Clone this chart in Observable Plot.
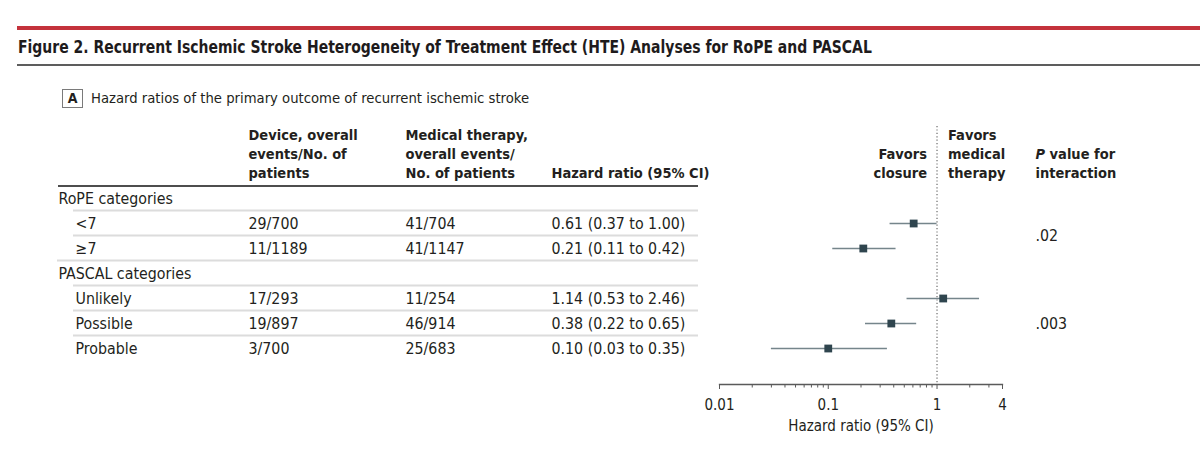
<!DOCTYPE html>
<html><head><meta charset="utf-8">
<script src="https://cdn.jsdelivr.net/npm/d3@7"></script>
<script src="https://cdn.jsdelivr.net/npm/@observablehq/plot@0.6"></script>
<style>
  body{margin:0;background:#fff;font-family:"DejaVu Sans Condensed","Liberation Sans Narrow",Roboto,sans-serif;color:#231f20;}
  #page{position:relative;width:1200px;height:459px;overflow:hidden;background:#fff}
  #redline{position:absolute;left:17px;top:26px;width:1183px;height:4px;background:#c4323c}
  #title{position:absolute;left:18px;top:35px;font-size:18.5px;font-weight:bold;white-space:nowrap;line-height:24px;transform:scaleX(0.84);transform-origin:0 0;color:#1e1b1c}
  #grayline{position:absolute;left:17px;top:64px;width:1183px;height:2px;background:#5d5d5d}
  #panel{position:absolute;left:62px;top:89px;width:19px;height:17px;border:1px solid #7a7a7a;font-size:14px;font-weight:bold;text-align:center;line-height:17px}
  #subtitle{position:absolute;left:91px;top:88px;font-size:14.7px;line-height:20px;white-space:nowrap}
  #chart{position:absolute;left:0;top:112px}
</style>
</head><body>
<div id="page">
  <div id="redline"></div>
  <div id="title">Figure 2. Recurrent Ischemic Stroke Heterogeneity of Treatment Effect (HTE) Analyses for RoPE and PASCAL</div>
  <div id="grayline"></div>
  <div id="panel">A</div>
  <div id="subtitle">Hazard ratios of the primary outcome of recurrent ischemic stroke</div>
  <div id="chart"></div>
</div>
<script>
// ---- data ----
const rows = ["RoPE categories", "<7", "≥7", "PASCAL categories", "Unlikely", "Possible", "Probable"];
const isGroupRow = [true, false, false, true, false, false, false];
const deviceEvents = ["", "29/700", "11/1189", "", "17/293", "19/897", "3/700"];
const medicalEvents = ["", "41/704", "41/1147", "", "11/254", "46/914", "25/683"];
const hazardRatio = [null, 0.61, 0.21, null, 1.14, 0.38, 0.10];
const ciLow = [null, 0.37, 0.11, null, 0.53, 0.22, 0.03];
const ciHigh = [null, 1.00, 0.42, null, 2.46, 0.65, 0.35];
const pGroups = ["RoPE categories", "PASCAL categories"];
const pValues = [".02", ".003"];
const majorTicks = [0.01, 0.1, 1, 4];
const minorTicks = [0.02, 0.03, 0.04, 0.05, 0.06, 0.07, 0.08, 0.09, 0.2, 0.3, 0.4, 0.5, 0.6, 0.7, 0.8, 0.9, 2, 3];
const headDevice = ["Device, overall", "events/No. of", "patients"];
const headMedical = ["Medical therapy,", "overall events/", "No. of patients"];
const headHR = ["Hazard ratio (95% CI)"];
const headClosure = ["Favors", "closure"];
const headMedicalFav = ["Favors", "medical", "therapy"];
const headP = ["P value for", "interaction"];
const axisLabel = "Hazard ratio (95% CI)";

// ---- tables built from arrays ----
const table = rows.map((r, i) => ({
  row: r, group: isGroupRow[i], device: deviceEvents[i], medical: medicalEvents[i],
  hr: hazardRatio[i], lo: ciLow[i], hi: ciHigh[i],
  hrText: hazardRatio[i] == null ? "" :
    `${hazardRatio[i].toFixed(2)} (${ciLow[i].toFixed(2)} to ${ciHigh[i].toFixed(2)})`
}));
const forest = table.filter(d => d.hr != null);

// ---- layout ----
const W = 1200, H = 347;
const mL = 719, mR = 198, mT = 14, mB = 75;
const rowTop = 86, rowBottom = 236;
const step = (rowBottom - rowTop) / (rows.length - 1);
const colLabel = 58, colSub = 75, colDevice = 248, colMedical = 405, colHR = 551, tableRight = 698;
const colP = 1035;
const FS = 15.8;
const HFS = 14.5;
const headDy = 51.5;
const ink = "#231f20";

const textBase = {frameAnchor: "left", textAnchor: "start", fontSize: FS, fill: ink};
const headBase = {frameAnchor: "top-left", textAnchor: "start", lineAnchor: "bottom", lineHeight: 1.31, fontSize: HFS, fontWeight: "bold", fill: ink, dy: headDy};

// p-value groups: place at the middle of each group's sub-rows
const pMarks = pGroups.map((g, k) => {
  const gi = rows.indexOf(g);
  let n = 0;
  for (let i = gi + 1; i < rows.length && !isGroupRow[i]; i++) n++;
  return Plot.text([pValues[k]], {y: () => rows[gi + 1], text: d => d, frameAnchor: "left",
    textAnchor: "start", dx: colP - mL, dy: (n - 1) / 2 * step, fontSize: FS, fill: ink});
});

const tableLines = (index, scales) => {
  const g = d3.create("svg:g");
  const y0 = scales.y(rows[0]) - step / 2 + 0.5;
  g.append("line").attr("x1", colLabel).attr("x2", tableRight).attr("y1", y0).attr("y2", y0)
    .attr("stroke", "#4d4d4d").attr("stroke-width", 2);
  for (let i = 0; i < rows.length - 1; i++) {
    const y = (scales.y(rows[i]) + scales.y(rows[i + 1])) / 2;
    const full = isGroupRow[i + 1];
    g.append("line").attr("x1", full ? 57 : 73).attr("x2", tableRight).attr("y1", y).attr("y2", y)
      .attr("stroke", "#dcdcdc").attr("stroke-width", 2);
  }
  return g.node();
};

const chart = Plot.plot({
  width: W, height: H,
  marginLeft: mL, marginRight: mR, marginTop: mT, marginBottom: mB,
  style: {fontFamily: '"DejaVu Sans Condensed","Liberation Sans Narrow",Roboto,sans-serif', color: ink, background: "#fff"},
  x: {type: "log", domain: [0.01, 4], axis: null},
  y: {type: "point", domain: rows, range: [rowTop, rowBottom], padding: 0, axis: null},
  marks: [
    tableLines,
    // reference line
    Plot.ruleX([1], {stroke: "#6b6b6b", strokeDasharray: "1.2,2.2", strokeWidth: 1.2}),
    // axis
    Plot.frame({anchor: "bottom", stroke: "#5a5a5a", strokeWidth: 1.3}),
    Plot.axisX({ticks: majorTicks, tickFormat: d => String(d), tickSize: 5, tickPadding: 10,
      fontSize: 15, stroke: "#5a5a5a", fill: ink}),
    Plot.axisX({ticks: minorTicks, tickSize: 3.5, stroke: "#5a5a5a", fill: "none"}),
    Plot.text([axisLabel], {frameAnchor: "bottom", dy: 46, fontSize: 15, fill: ink}),
    // forest
    Plot.ruleY(forest, {y: "row", x1: "lo", x2: "hi", stroke: "#75858b", strokeWidth: 1.5}),
    Plot.dot(forest, {x: "hr", y: "row", symbol: "square", r: 4.4, fill: "#2f454e", stroke: "none"}),
    // table body
    Plot.text(table, {...textBase, y: "row", text: "row", dx: colLabel - mL, filter: d => d.group}),
    Plot.text(table, {...textBase, y: "row", text: "row", dx: colSub - mL, filter: d => !d.group}),
    Plot.text(table, {...textBase, y: "row", text: "device", dx: colDevice - mL}),
    Plot.text(table, {...textBase, y: "row", text: "medical", dx: colMedical - mL}),
    Plot.text(table, {...textBase, y: "row", text: "hrText", dx: colHR - mL}),
    ...pMarks,
    // headers
    Plot.text([headDevice.join("\n")], {...headBase, text: d => d, dx: colDevice - mL}),
    Plot.text([headMedical.join("\n")], {...headBase, text: d => d, dx: colMedical - mL}),
    Plot.text([headHR.join("\n")], {...headBase, text: d => d, dx: colHR - mL}),
    Plot.text([headClosure.join("\n")], {...headBase, x: () => 1, frameAnchor: "top", textAnchor: "end", text: d => d, dx: -10}),
    Plot.text([headMedicalFav.join("\n")], {...headBase, x: () => 1, frameAnchor: "top", textAnchor: "start", text: d => d, dx: 11}),
    Plot.text([headP.join("\n")], {...headBase, text: d => d, dx: colP - mL})
  ]
});

// italic P in the interaction header
d3.select(chart).selectAll("tspan").filter(function() { return this.textContent === headP[0]; })
  .each(function() {
    const t = d3.select(this);
    t.text("");
    t.append("tspan").attr("font-style", "italic").text("P");
    t.append("tspan").text(headP[0].slice(1));
  });

document.getElementById("chart").appendChild(chart);
</script>
</body></html>
